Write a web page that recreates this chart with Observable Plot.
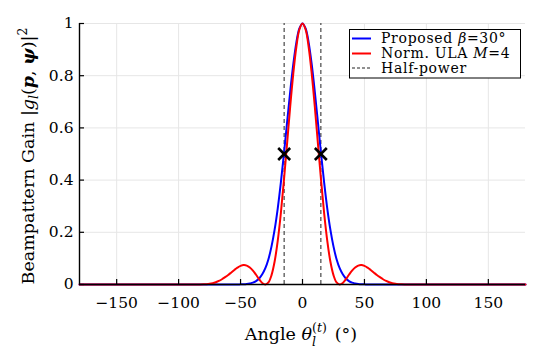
<!DOCTYPE html>
<html>
<head>
<meta charset="utf-8">
<script src="https://cdn.jsdelivr.net/npm/d3@7"></script>
<script src="https://cdn.jsdelivr.net/npm/@observablehq/plot@0.6"></script>
<style>
  html, body { margin: 0; padding: 0; background: white; }
  #chart { position: relative; width: 542px; height: 362px; }
</style>
</head>
<body>
<div id="chart"></div>
<script>
// ---- data ----
const angles = [-180,
  -90, -87.5, -85, -82.5, -80, -77.5, -75, -72.5, -70, -67.5, -65, -62.5, -60, -57.5, -55, -52.5,
  -50, -47.5, -45, -42.5, -40, -37.5, -35, -32.5, -30, -27.5, -25, -22.5, -20, -17.5, -15, -12.5,
  -10, -7.5, -5, -2.5, 0,
  2.5, 5, 7.5, 10, 12.5, 15, 17.5, 20, 22.5, 25, 27.5, 30, 32.5, 35, 37.5, 40, 42.5, 45, 47.5, 50,
  52.5, 55, 57.5, 60, 62.5, 65, 67.5, 70, 72.5, 75, 77.5, 80, 82.5, 85, 87.5, 90,
  180];
const proposedGain = [0,
  0, 0, 0, 0, 0, 0, 0, 0, 0, 0, 0, 0, 0, 0, 0, 0,
  0.0005, 0.001, 0.002, 0.004, 0.007, 0.013, 0.023, 0.039, 0.0625, 0.097, 0.146, 0.210, 0.291, 0.389, 0.5, 0.618,
  0.735, 0.841, 0.926, 0.981, 1,
  0.981, 0.926, 0.841, 0.735, 0.618, 0.5, 0.389, 0.291, 0.210, 0.146, 0.097, 0.0625, 0.039, 0.023, 0.013, 0.007, 0.004, 0.002, 0.001, 0.0005,
  0, 0, 0, 0, 0, 0, 0, 0, 0, 0, 0, 0, 0, 0, 0, 0,
  0];
const ulaGain = [0,
  0, 0, 0.0001, 0.0002, 0.0006, 0.0014, 0.0028, 0.0052, 0.0088, 0.0136, 0.0201, 0.028, 0.0365, 0.0462, 0.0558, 0.0644,
  0.0711, 0.0743, 0.0724, 0.0648, 0.0531, 0.0373, 0.0202, 0.006, 0, 0.008, 0.036, 0.088, 0.167, 0.272, 0.399, 0.537,
  0.678, 0.805, 0.909, 0.977, 1,
  0.977, 0.909, 0.805, 0.678, 0.537, 0.399, 0.272, 0.167, 0.088, 0.036, 0.008, 0, 0.006, 0.0202, 0.0373, 0.0531, 0.0648, 0.0724, 0.0743, 0.0711,
  0.0644, 0.0558, 0.0462, 0.0365, 0.028, 0.0201, 0.0136, 0.0088, 0.0052, 0.0028, 0.0014, 0.0006, 0.0002, 0.0001, 0, 0,
  0];
const halfPowerAngles = [-14.8, 14.8];
const halfPowerGain = [0.5, 0.5];
const xTicks = [-150, -100, -50, 0, 50, 100, 150];
const yTicks = [0, 0.2, 0.4, 0.6, 0.8, 1];
const seriesNames = ["Proposed", "Norm. ULA", "Half-power"];

// ---- build tables ----
const rows = angles.map((a, i) => ({a, proposed: proposedGain[i], ula: ulaGain[i]}));
const markers = halfPowerAngles.map((a, i) => ({a, g: halfPowerGain[i]}));

const FONT = "'DejaVu Serif', 'Liberation Serif', serif";
const svg = Plot.plot({
  width: 542, height: 362,
  marginLeft: 79, marginRight: 17, marginTop: 23, marginBottom: 78,
  style: {fontFamily: FONT, fontSize: "15.5px", background: "white", color: "black"},
  x: {domain: [-180, 180]},
  y: {domain: [0, 1]},
  marks: [
    Plot.gridX(xTicks, {stroke: "#e6e6e6", strokeOpacity: 1}),
    Plot.gridY(yTicks, {stroke: "#e6e6e6", strokeOpacity: 1}),
    Plot.ruleX(halfPowerAngles, {y1: 0, y2: 1, stroke: "#555", strokeWidth: 1.3, strokeDasharray: "4,3"}),
    Plot.line(rows, {x: "a", y: "proposed", stroke: "#0000ff", strokeWidth: 2, curve: "catmull-rom"}),
    Plot.line(rows, {x: "a", y: "ula", stroke: "#ff0000", strokeWidth: 2, curve: "catmull-rom"}),
    Plot.dot(markers, {x: "a", y: "g", symbol: "times", r: 5.5, stroke: "black", strokeWidth: 2.6}),
    Plot.axisX(xTicks, {tickSize: -5, tickPadding: 17, label: null, stroke: "black", strokeWidth: 1.2}),
    Plot.axisY(yTicks, {tickSize: -5, tickPadding: 11, label: null, tickFormat: d => String(d), stroke: "black", strokeWidth: 1.2}),
    Plot.ruleX([-180], {stroke: "black", strokeWidth: 1.4}),
    Plot.ruleY([0], {stroke: "black", strokeWidth: 1.4})
  ]
});
document.getElementById("chart").appendChild(svg);

const s = d3.select(svg);
function measure(str, size, italic) {
  const t = s.append("text").style("font-family", FONT).style("font-size", size + "px")
    .attr("font-style", italic ? "italic" : "normal").text(str);
  const w = t.node().getComputedTextLength(); t.remove(); return w;
}

// ---- axis labels with math ----
// x label: Angle θ_l^(t) (°)
const xl = s.append("text")
  .attr("x", 301).attr("y", 340)
  .attr("text-anchor", "middle")
  .style("font-family", FONT).style("font-size", "17.5px").attr("fill", "black");
xl.append("tspan").text("Angle ");
xl.append("tspan").attr("font-style", "italic").text("θ");
const supT = xl.append("tspan").attr("font-size", "12.5px").attr("dy", -8.5);
supT.append("tspan").text("(");
supT.append("tspan").attr("font-style", "italic").text("t");
supT.append("tspan").text(")");
const wSup = measure("(t)", 12.5, false);
const wSub = measure("l", 12.5, true);
xl.append("tspan").attr("font-size", "12.5px").attr("font-style", "italic")
  .attr("dx", -wSup).attr("dy", 14).text("l");
xl.append("tspan").attr("dx", wSup - wSub + 8).attr("dy", -5.5).text("(°)");

// y label: Beampattern Gain |g_l(p, ψ)|²
const yl = s.append("text")
  .attr("transform", "translate(34,156) rotate(-90)")
  .attr("text-anchor", "middle")
  .style("font-family", FONT).style("font-size", "17.5px").attr("fill", "black");
yl.append("tspan").text("Beampattern Gain |");
yl.append("tspan").attr("font-style", "italic").text("g");
yl.append("tspan").attr("font-style", "italic").attr("font-size", "12.5px").attr("dy", 4).text("l");
yl.append("tspan").attr("dy", -4).text("(");
yl.append("tspan").attr("font-style", "italic").attr("font-weight", "bold").text("p");
yl.append("tspan").text(", ");
yl.append("tspan").attr("font-style", "italic").attr("font-weight", "bold").text("ψ");
yl.append("tspan").text(")|");
yl.append("tspan").attr("font-size", "12.5px").attr("dy", -7).text("2");

// ---- legend ----
const lg = s.append("g");
lg.append("rect").attr("x", 349.5).attr("y", 29.5).attr("width", 171).attr("height", 48.5)
  .attr("fill", "white").attr("stroke", "black").attr("stroke-width", 1);
const legendRows = [
  {name: seriesNames[0], color: "#0000ff", dash: null, y: 38.5, math: ["β", "=30°"]},
  {name: seriesNames[1], color: "#ff0000", dash: null, y: 53.5, math: ["M", "=4"]},
  {name: seriesNames[2], color: "#222", dash: "3,2", y: 68, math: null}
];
legendRows.forEach(r => {
  lg.append("line").attr("x1", 352).attr("x2", 371).attr("y1", r.y).attr("y2", r.y)
    .attr("stroke", r.color).attr("stroke-width", r.dash ? 1.2 : 2)
    .attr("stroke-dasharray", r.dash);
  const t = lg.append("text").attr("x", 381).attr("y", r.y + 4.8)
    .attr("text-anchor", "start").attr("fill", "black")
    .style("font-family", FONT).style("font-size", "14px").style("letter-spacing", "0.7px");
  if (r.math) {
    t.append("tspan").text(r.name + " ");
    t.append("tspan").attr("font-style", "italic").text(r.math[0]);
    t.append("tspan").text(r.math[1]);
  } else {
    t.text(r.name);
  }
});
</script>
</body>
</html>
